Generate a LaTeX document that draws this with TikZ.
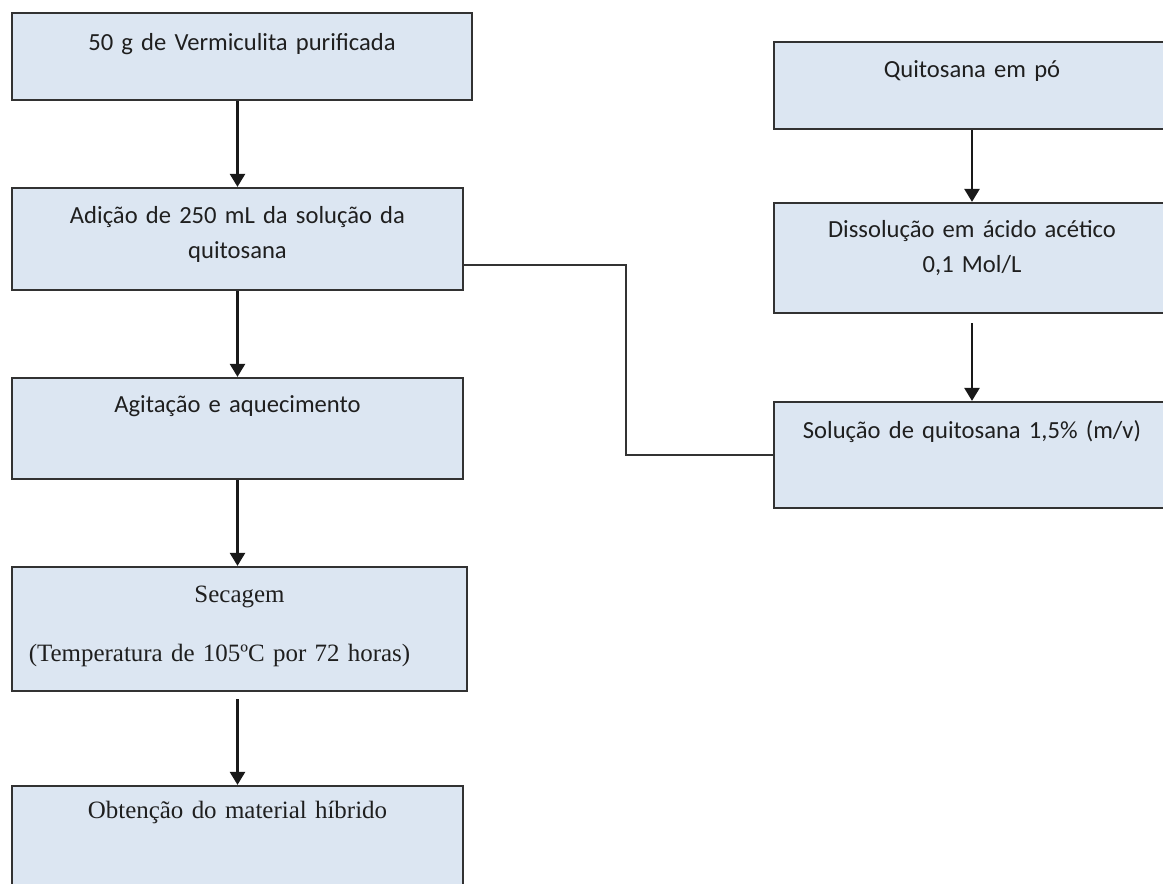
\documentclass[tikz,border=0pt]{standalone}
\usepackage{fontspec}
\setmainfont{Carlito}
\newfontfamily\timesfont{Liberation Serif}
\usepackage{tikz}
\usetikzlibrary{positioning}
\usetikzlibrary{arrows.meta}
\definecolor{boxfill}{RGB}{220,230,242}
\definecolor{boxline}{RGB}{50,50,50}

\begin{document}
\begin{tikzpicture}[x=0.02cm,y=-0.02cm]
\tikzstyle{box}=[rectangle,align=center,draw=boxline,fill=boxfill,line width=0.045cm,inner sep=0pt,text=black!88,font=\fontsize{14}{20}\selectfont]
\tikzstyle{seriftext}=[font=\timesfont\fontsize{14.2}{20}\selectfont]
\tikzstyle{arrow}=[draw=black!90,line width=0.05cm,-{Triangle[width=0.3cm,length=0.26cm]}]
\clip (0,0) rectangle (1163,883);
% left column
\node[box,text width=9.2cm,text height=0.74cm,text depth=1.0cm] at(242, 56.5) (vermiculita) {50 g de Vermiculita purificada};
\node[box,text width=9.02cm,text height=0.70cm,text depth=1.34cm] at(237.5, 239) (adicao) {Adição de 250 mL da solução da\\
                         quitosana};
\node[box,text width=9.02cm,text height=0.68cm,text depth=1.34cm] at(237.5, 428.5) (agitacao) {Agitação e aquecimento};
\node[box,seriftext,text width=9.1cm,text height=0.70cm,text depth=1.78cm] at(239.5, 629) (secagem) {Secagem\\[14pt]
                         (Temperatura de 105ºC por 72 horas)\rule{0.8cm}{0pt}};
\node[box,seriftext,text width=9.02cm,text height=0.64cm,text depth=1.56cm] at(237.5, 841) (obtencao) {Obtenção do material híbrido};
% right column
\node[box,text width=7.92cm,text height=0.70cm,text depth=1.04cm] at(972, 85.5) (quitosana) {Quitosana em pó};
\node[box,text width=7.92cm,text height=0.68cm,text depth=1.52cm] at(972, 258) (dissolucao) {Dissolução em ácido acético\\
                         0,1 Mol/L};
\node[box,text width=7.92cm,text height=0.72cm,text depth=1.40cm] at(972, 455) (solucao) {Solução de quitosana 1,5\% (m/v)};

\draw[arrow] (adicao.north |- vermiculita.south) -- (adicao.north);
\draw[arrow] (adicao.south) -- (agitacao.north);
\draw[arrow] (agitacao.south) -- (agitacao.south |- secagem.north);
\draw[arrow,shorten <=0.14cm] (obtencao.north |- secagem.south) -- (obtencao.north);
\draw[arrow] (quitosana.south) -- (dissolucao.north);
\draw[arrow,shorten <=0.18cm] (dissolucao.south) -- (solucao.north);
\draw[draw=black!80,line width=0.04cm] ([yshift=-0.52cm]adicao.east) -- ++(162,0) |- (solucao.west);
\end{tikzpicture}
\end{document}
